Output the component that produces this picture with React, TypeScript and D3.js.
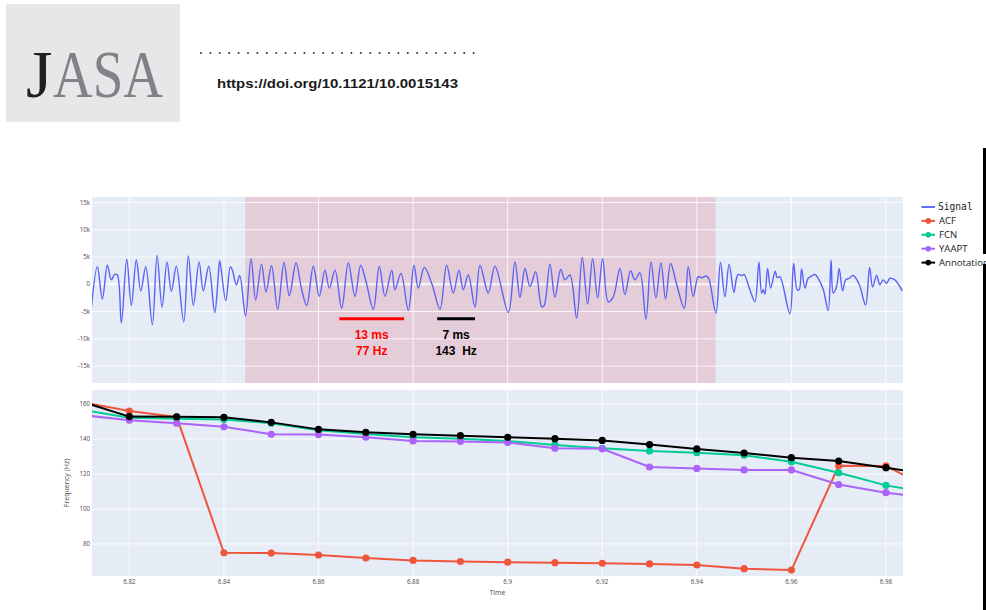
import React from 'react';
import * as d3 from 'd3';

const W = 986;
const H = 610;

// ---- pitch tracks (bottom panel) ----
const frameTimes = [6.81, 6.82, 6.83, 6.84, 6.85, 6.86, 6.87, 6.88, 6.89, 6.9, 6.91, 6.92, 6.93, 6.94, 6.95, 6.96, 6.97, 6.98, 6.99];
const acfHz = [161, 156, 152.6, 75, 74.8, 73.7, 72, 70.6, 70, 69.6, 69.3, 69, 68.6, 68, 65.9, 65.1, 124.7, 124.6, 111];
const fcnHz = [156.6, 152.2, 151.6, 151.2, 149, 145, 142.8, 141, 140.2, 138.8, 136.6, 134.7, 133.1, 132.2, 130.7, 127, 120.7, 113.5, 109];
const yaaptHz = [153.7, 150.7, 149, 147, 142.7, 142.5, 141, 138.9, 138.5, 138, 134.7, 134.4, 124, 123.2, 122.3, 122.3, 114, 109.3, 105.9];
const annotationHz = [161.3, 152.8, 152.7, 152.4, 149.5, 145.5, 143.8, 142.7, 141.9, 141, 140.2, 139.2, 136.8, 134.3, 132, 129.3, 127.4, 123.6, 119.7];

// ---- waveform (top panel), turning points ----
const sigTime = [
  6.8118, 6.81323, 6.81429, 6.81535, 6.81619, 6.81691, 6.81746, 6.81831, 6.81945, 6.82042,
  6.82148, 6.82241, 6.82347, 6.82486, 6.82586, 6.82691, 6.82797, 6.82888, 6.82994, 6.8315,
  6.83247, 6.83353, 6.83474, 6.83564, 6.83679, 6.83805, 6.83875, 6.83911, 6.84038, 6.84135,
  6.84178, 6.84262, 6.84334, 6.84457, 6.84573, 6.84672, 6.84795, 6.8489, 6.85006, 6.85137,
  6.85271, 6.85383, 6.85524, 6.85645, 6.8575, 6.8589, 6.86017, 6.86137, 6.86228, 6.86349,
  6.8649, 6.8663, 6.86772, 6.86892, 6.87004, 6.87159, 6.87285, 6.87406, 6.87548, 6.87617,
  6.87744, 6.87899, 6.88019, 6.8811, 6.88237, 6.884, 6.88569, 6.8871, 6.8885, 6.8897,
  6.89061, 6.89167, 6.89309, 6.89414, 6.8959, 6.89732, 6.90013, 6.90154, 6.9026, 6.90366,
  6.90472, 6.90592, 6.90719, 6.90767, 6.90894, 6.91, 6.91121, 6.91211, 6.91317, 6.91459,
  6.91577, 6.91691, 6.91797, 6.91903, 6.92008, 6.92127, 6.92233, 6.92374, 6.9248, 6.926,
  6.92691, 6.92797, 6.92924, 6.9303, 6.93135, 6.93241, 6.9334, 6.93446, 6.93573, 6.93734,
  6.93818, 6.93924, 6.9403, 6.94101, 6.94207, 6.94256, 6.94404, 6.94499, 6.94594, 6.94683,
  6.94784, 6.94837, 6.94875, 6.94954, 6.94996, 6.95123, 6.95228, 6.95313, 6.9537, 6.95404,
  6.9544, 6.95497, 6.9556, 6.95658, 6.957, 6.95757, 6.95968, 6.96047, 6.96123, 6.96165,
  6.96216, 6.96285, 6.96355, 6.96427, 6.96497, 6.96567, 6.96672, 6.96778, 6.96839, 6.96884,
  6.96956, 6.97011, 6.97083, 6.97146, 6.97222, 6.97307, 6.97433, 6.97569, 6.97653, 6.97717,
  6.97801, 6.97871, 6.97941, 6.98013, 6.98083, 6.98188, 6.98343,
];
const sigValue = [
  -5900, 3200, -2700, 3500, 800, 1800, 1700, -7100, 4600, -3900,
  4500, -1200, 3200, -7400, 5300, -4200, 4100, -1300, 3300, -6900,
  5200, -3900, 4100, -1200, 3300, -5200, 800, 4300, -3000, 3200,
  2600, -100, 1600, -5800, 4700, -2900, 3700, -1400, 3400, -4600,
  4000, -2100, 3900, -1000, -3900, 3300, -2200, 2600, -700, 2600,
  -4400, 3900, -2200, 3500, 500, -4600, 3300, -2200, 2600, -1000,
  2000, -4800, 3500, -700, 3100, 0, -4600, 3500, -1600, 2600,
  -1000, 1700, -4200, 3500, -1600, 3300, -5200, 4100, -2400, 2900,
  -400, 2300, -4100, -4000, 3700, -2400, 2700, 800, 1700, -6200,
  4900, -3600, 4700, -2500, 4700, -3200, -2300, 2900, -1900, 2500,
  800, 2100, -6400, 4100, -2500, 3900, -2700, 3800, 0, -4400,
  3200, -2200, 1400, 1200, 1500, 1000, -5300, 4000, -2300, 3700,
  -1500, 1000, 1800, 1600, 1800, -1000, -3200, 4100, -1600, -1000,
  -1800, 2900, -700, 2400, 1200, 1400, -5400, 3800, -1000, -1000,
  2800, -700, 1100, 1500, 1800, 1100, -900, -4800, 4400, -1600,
  -400, 2900, -1200, 800, 1100, 1600, 0, -3800, 3100, -500,
  1600, -100, 800, 200, 1100, 800, -1200,
];

const shadeRange = [6.8445, 6.944];
const topTicks = [15000, 10000, 5000, 0, -5000, -10000, -15000];
const bottomTicks = [160, 140, 120, 100, 80];
const timeTicks = [6.82, 6.84, 6.86, 6.88, 6.9, 6.92, 6.94, 6.96, 6.98];
const timeTickLabels = ['6.82', '6.84', '6.86', '6.88', '6.9', '6.92', '6.94', '6.96', '6.98'];

// period markers drawn on the waveform
const periodMarks = [
  { t0: 6.8644, t1: 6.8781, v: -6300, color: '#ff0000', line1: '13 ms', line2: '77 Hz' },
  { t0: 6.8851, t1: 6.8931, v: -6300, color: '#000000', line1: '7 ms', line2: '143  Hz' },
];

const legendItems = [
  { name: 'Signal', color: '#6670f7', marker: false, mono: true },
  { name: 'ACF', color: '#EF553B', marker: true, mono: false },
  { name: 'FCN', color: '#00CC96', marker: true, mono: false },
  { name: 'YAAPT', color: '#AB63FA', marker: true, mono: false },
  { name: 'Annotation', color: '#000000', marker: true, mono: false },
];

const tracks = [
  { name: 'ACF', color: '#EF553B', values: acfHz },
  { name: 'FCN', color: '#00CC96', values: fcnHz },
  { name: 'YAAPT', color: '#AB63FA', values: yaaptHz },
  { name: 'Annotation', color: '#000000', values: annotationHz },
];

const fmtK = (v: number) => (v === 0 ? '0' : `${v / 1000}k`);

export default function App() {
  const left = 92, right = 903;
  const topY0 = 197, topY1 = 383;
  const botY0 = 390, botY1 = 576;
  const x = d3.scaleLinear().domain([6.8121, 6.9836]).range([left, right]);
  const yT = d3.scaleLinear().domain([-18100, 16000]).range([topY1, topY0]);
  const yB = d3.scaleLinear().domain([61.7, 168]).range([botY1, botY0]);

  const sigLine = d3
    .line<number>()
    .x((_, i) => x(sigTime[i]))
    .y((d) => yT(d))
    .curve(d3.curveCatmullRom.alpha(0.5));

  const trackLine = d3
    .line<number>()
    .x((_, i) => x(frameTimes[i]))
    .y((d) => yB(d));

  const tickFont = { fontFamily: "'Open Sans', 'DejaVu Sans', sans-serif", fontSize: 6.2, fill: '#4a4a4a' };
  const serif = "'Liberation Serif', 'DejaVu Serif', serif";

  return (
    <svg width={W} height={H} style={{ position: 'absolute', left: 0, top: 0, background: '#fff' }}>
      <defs>
        <clipPath id="clipTop">
          <rect x={left} y={topY0} width={right - left} height={topY1 - topY0} />
        </clipPath>
        <clipPath id="clipBot">
          <rect x={left} y={botY0} width={right - left} height={botY1 - botY0} />
        </clipPath>
      </defs>
      <rect x={0} y={0} width={W} height={H} fill="#fff" />

      {/* JASA header */}
      <rect x={6} y={4} width={174} height={118} fill="#e6e7e8" />
      <text x={26} y={97} fontFamily={serif} fontSize={68} fill="#231f20">
        J
      </text>
      <text x={53} y={97} fontFamily={serif} fontSize={68} fill="#808285" textLength={110} lengthAdjust="spacingAndGlyphs">
        ASA
      </text>
      <line x1={201} x2={474} y1={53} y2={53} stroke="#333" strokeWidth={2} strokeLinecap="round" strokeDasharray="0 9.4" />
      <text
        x={217}
        y={87.5}
        fontFamily="'Liberation Sans', Arial, sans-serif"
        fontWeight="bold"
        fontSize={13}
        fill="#1a1a1a"
        textLength={241}
        lengthAdjust="spacingAndGlyphs"
      >
        https://doi.org/10.1121/10.0015143
      </text>

      {/* ---------- top panel ---------- */}
      <rect x={left} y={topY0} width={right - left} height={topY1 - topY0} fill="#E5ECF6" />
      <rect
        x={x(shadeRange[0])}
        y={topY0}
        width={x(shadeRange[1]) - x(shadeRange[0])}
        height={topY1 - topY0}
        fill="#e4cdd8"
      />
      {timeTicks.map((t) => (
        <line key={'tvx' + t} x1={x(t)} x2={x(t)} y1={topY0} y2={topY1} stroke="#fff" strokeWidth={1} opacity={0.85} />
      ))}
      {topTicks.map((v) => (
        <line key={'thy' + v} x1={left} x2={right} y1={yT(v)} y2={yT(v)} stroke="#fff" strokeWidth={v === 0 ? 2 : 1} opacity={0.85} />
      ))}
      {topTicks.map((v) => (
        <text key={'tl' + v} x={left - 2} y={yT(v)} dy="0.35em" textAnchor="end" {...tickFont}>
          {fmtK(v)}
        </text>
      ))}
      <g clipPath="url(#clipTop)">
        <path d={sigLine(sigValue) || ''} fill="none" stroke="#5a63f3" strokeWidth={1.4} strokeLinejoin="round" />
      </g>
      {periodMarks.map((m) => {
        const cx = (x(m.t0) + x(m.t1)) / 2;
        return (
          <g key={m.line1}>
            <line x1={x(m.t0)} x2={x(m.t1)} y1={yT(m.v)} y2={yT(m.v)} stroke={m.color} strokeWidth={3} />
            <text x={cx} y={yT(m.v) + 20.5} textAnchor="middle" fontFamily="'Liberation Sans', Arial, sans-serif" fontWeight="bold" fontSize={12} fill={m.color} style={{ whiteSpace: 'pre' }}>
              {m.line1}
            </text>
            <text x={cx} y={yT(m.v) + 36.5} textAnchor="middle" fontFamily="'Liberation Sans', Arial, sans-serif" fontWeight="bold" fontSize={12} fill={m.color} style={{ whiteSpace: 'pre' }}>
              {m.line2}
            </text>
          </g>
        );
      })}

      {/* ---------- bottom panel ---------- */}
      <rect x={left} y={botY0} width={right - left} height={botY1 - botY0} fill="#E5ECF6" />
      {timeTicks.map((t) => (
        <line key={'bvx' + t} x1={x(t)} x2={x(t)} y1={botY0} y2={botY1} stroke="#fff" strokeWidth={1} opacity={0.85} />
      ))}
      {bottomTicks.map((v) => (
        <line key={'bhy' + v} x1={left} x2={right} y1={yB(v)} y2={yB(v)} stroke="#fff" strokeWidth={1} opacity={0.85} />
      ))}
      {bottomTicks.map((v) => (
        <text key={'bl' + v} x={left - 2} y={yB(v)} dy="0.35em" textAnchor="end" {...tickFont}>
          {v}
        </text>
      ))}
      {timeTicks.map((t, i) => (
        <text key={'xl' + t} x={x(t)} y={botY1 + 8} textAnchor="middle" {...tickFont}>
          {timeTickLabels[i]}
        </text>
      ))}
      <text x={(left + right) / 2} y={botY1 + 19} textAnchor="middle" {...tickFont} fontSize={7}>
        Time
      </text>
      <text
        transform={`translate(${69},${(botY0 + botY1) / 2}) rotate(-90)`}
        textAnchor="middle"
        {...tickFont}
        fontSize={7}
      >
        Frequency (Hz)
      </text>
      <g clipPath="url(#clipBot)">
        {tracks.map((tr) => (
          <g key={tr.name}>
            <path d={trackLine(tr.values) || ''} fill="none" stroke={tr.color} strokeWidth={2} strokeLinejoin="round" />
            {tr.values.map((v, i) => (
              <circle key={i} cx={x(frameTimes[i])} cy={yB(v)} r={3.6} fill={tr.color} />
            ))}
          </g>
        ))}
      </g>

      {/* ---------- legend ---------- */}
      {legendItems.map((it, i) => {
        const ly = 207 + i * 13.9;
        return (
          <g key={it.name}>
            <line x1={921.5} x2={935} y1={ly} y2={ly} stroke={it.color} strokeWidth={2} />
            {it.marker && <circle cx={928.3} cy={ly} r={2.8} fill={it.color} />}
            <text
              x={it.mono ? 938 : 939}
              y={ly}
              dy="0.35em"
              fontFamily={it.mono ? "'DejaVu Sans Mono', 'Liberation Mono', monospace" : "'Open Sans', 'DejaVu Sans', sans-serif"}
              fontSize={9.6}
              fill="#222"
            >
              {it.name}
            </text>
          </g>
        );
      })}

      {/* page edge bar */}
      <rect x={983} y={148} width={3} height={106} fill="#000" />
      <rect x={983} y={264} width={3} height={346} fill="#000" />
    </svg>
  );
}
